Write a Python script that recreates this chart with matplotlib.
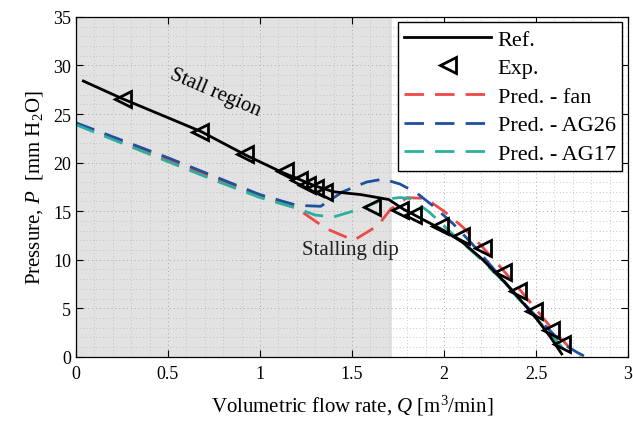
import matplotlib
matplotlib.use("Agg")
import matplotlib.pyplot as plt
from matplotlib.ticker import MultipleLocator

plt.rcParams["font.family"] = ["Liberation Serif", "DejaVu Serif"]
plt.rcParams["mathtext.fontset"] = "custom"
plt.rcParams["mathtext.rm"] = "Liberation Serif"
plt.rcParams["mathtext.it"] = "Liberation Serif:italic"

# reference curve
ref_q = [0.04, 0.25, 0.68, 0.92, 1.12, 1.30, 1.40, 1.55, 1.70, 1.78, 1.90, 2.00,
         2.10, 2.20, 2.30, 2.40, 2.50, 2.58, 2.64]
ref_p = [28.4, 26.6, 23.2, 20.8, 19.0, 17.6, 17.0, 16.7, 16.2, 15.2, 14.0, 13.0,
         11.8, 10.2, 8.3, 6.2, 4.0, 2.0, 0.3]

# experiment points
exp_q = [0.255, 0.674, 0.918, 1.136, 1.21, 1.255, 1.30, 1.35, 1.61, 1.76, 1.83,
         1.98, 2.09, 2.21, 2.32, 2.40, 2.49, 2.58, 2.64]
exp_p = [26.6, 23.2, 20.9, 19.1, 18.2, 17.7, 17.4, 17.0, 15.4, 15.1, 14.6,
         13.5, 12.4, 11.2, 8.7, 6.8, 4.7, 2.8, 1.3]

# predictions
fan_q = [0.0, 0.25, 0.5, 0.75, 1.0, 1.2, 1.36, 1.51, 1.64, 1.71, 1.80, 1.90,
         2.0, 2.1, 2.2, 2.3, 2.4, 2.5, 2.6, 2.68, 2.74]
fan_p = [24.0, 22.1, 20.3, 18.4, 16.6, 15.3, 13.2, 12.0, 13.5, 15.2, 16.4, 16.3,
         15.0, 13.4, 11.5, 9.4, 7.2, 4.9, 2.6, 1.0, 0.0]

ag26_q = [0.0, 0.25, 0.5, 0.75, 1.0, 1.2, 1.33, 1.45, 1.58, 1.67, 1.76, 1.85,
          1.95, 2.05, 2.15, 2.25, 2.35, 2.45, 2.55, 2.65, 2.72, 2.77]
ag26_p = [24.1, 22.3, 20.5, 18.6, 16.7, 15.6, 15.5, 17.0, 18.0, 18.3, 17.8, 16.9,
          15.4, 13.7, 11.7, 9.5, 7.3, 5.2, 3.2, 1.3, 0.5, 0.0]

ag17_q = [0.0, 0.25, 0.5, 0.75, 1.0, 1.2, 1.30, 1.40, 1.54, 1.67, 1.76, 1.82,
          1.92, 2.05, 2.18, 2.30, 2.40, 2.50, 2.60, 2.65, 2.68]
ag17_p = [23.9, 22.0, 20.1, 18.2, 16.4, 15.3, 14.6, 14.4, 15.2, 16.2, 16.4, 16.3,
          14.9, 12.6, 10.4, 8.2, 6.1, 4.0, 1.9, 0.8, 0.0]

x_ticks = [0, 0.5, 1, 1.5, 2, 2.5, 3]
x_labels = ["0", "0.5", "1", "1.5", "2", "2.5", "3"]

fig = plt.figure(figsize=(6.33, 4.27), dpi=100)
ax = fig.add_axes([0.120, 0.162, 0.872, 0.796])

ax.axvspan(0, 1.72, color="#e2e2e2", zorder=0, lw=0)

dash = (7, 4)
ax.plot(ref_q, ref_p, color="black", lw=2, label="Ref.", zorder=5)
ax.plot(exp_q, exp_p, ls="none", marker="<", ms=12, mfc="none", mec="black",
        mew=2, label="Exp.", zorder=6)
ax.plot(fan_q, fan_p, color="#ee4848", lw=2, dashes=dash, label="Pred. - fan", zorder=3)
ax.plot(ag26_q, ag26_p, color="#1f4f9f", lw=2, dashes=dash, label="Pred. - AG26", zorder=3)
ax.plot(ag17_q, ag17_p, color="#2bb09e", lw=2, dashes=dash, label="Pred. - AG17", zorder=3)

ax.set_xlim(0, 3)
ax.set_ylim(0, 35)
ax.set_xticks(x_ticks, x_labels)
ax.xaxis.set_minor_locator(MultipleLocator(0.1))
ax.yaxis.set_major_locator(MultipleLocator(5))
ax.yaxis.set_minor_locator(MultipleLocator(1))
ax.grid(True, which="major", ls=(0, (1, 3)), color="#a8a8a8", lw=0.7)
ax.grid(True, which="minor", ls=(0, (1, 3)), color="#b8b8b8", lw=0.6)
ax.set_axisbelow(True)
ax.tick_params(which="major", direction="in", top=True, right=True, length=5,
               labelsize=13, width=0.8)
ax.tick_params(axis="x", pad=6)
ax.tick_params(which="minor", length=0)
for s in ax.spines.values():
    s.set_linewidth(0.9)
    s.set_zorder(10)

ax.set_xlabel(r"Volumetric flow rate, $\mathit{Q}$ [m$^3$/min]", fontsize=15,
              labelpad=8)
ax.set_ylabel(r"Pressure, $\mathit{P}$  [mm H$_2$O]", fontsize=15, labelpad=6)

ax.text(0.755, 27.3, "Stall region", fontsize=15, rotation=-23,
        ha="center", va="center", zorder=7)
ax.text(1.49, 11.1, "Stalling dip", fontsize=15, ha="center", va="center",
        color="#222222", zorder=7)

leg = ax.legend(loc="upper right", fontsize=16, handlelength=3.9,
                labelspacing=0.36, borderpad=0.3, handletextpad=0.3,
                borderaxespad=0.25, fancybox=False, framealpha=1,
                edgecolor="black")
leg.get_frame().set_linewidth(1.0)
leg.set_zorder(20)

fig.savefig("out.png", dpi=100)
